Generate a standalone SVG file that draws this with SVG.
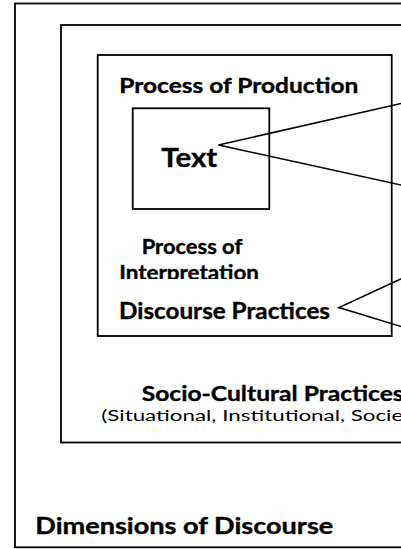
<svg xmlns="http://www.w3.org/2000/svg" width="401" height="549" viewBox="0 0 401 549">
  <style>
    .frame { fill: none; stroke: #000; stroke-width: 1.8; }
    .link { fill: none; stroke: #000; stroke-width: 1.6; stroke-linejoin: miter; }
    .b { font-family: Lato, "Liberation Sans", sans-serif; font-weight: bold; fill: #000; stroke: #000; stroke-width: 0.35; }
    .r { font-family: Lato, "Liberation Sans", sans-serif; font-weight: normal; fill: #000; }
  </style>
  <defs>
    <clipPath id="interpClip">
      <rect x="100" y="240" width="200" height="39"/>
    </clipPath>
  </defs>
  <rect width="401" height="549" fill="#fff"/>

  <!-- Outer frame: dimensions of discourse -->
  <g id="dimensions">
    <rect class="frame" x="15" y="3.5" width="420" height="543.8"/>
    <text class="b" x="35.3" y="534.3" font-size="22" textLength="298" lengthAdjust="spacingAndGlyphs">Dimensions of Discourse</text>
  </g>

  <!-- Socio-cultural practices -->
  <g id="socio-cultural">
    <rect class="frame" x="61" y="25" width="380" height="417.5"/>
    <text class="b" x="141.7" y="401.3" font-size="21.5" textLength="262" lengthAdjust="spacingAndGlyphs">Socio-Cultural Practices</text>
    <text class="r" x="101.3" y="420.8" font-size="15" textLength="302" lengthAdjust="spacingAndGlyphs">(Situational, Institutional, Socie</text>
  </g>

  <!-- Discourse practices -->
  <g id="discourse-practices">
    <rect class="frame" x="97.7" y="55" width="294" height="281"/>
    <text class="b" x="119.3" y="92.7" font-size="21" textLength="239" lengthAdjust="spacingAndGlyphs">Process of Production</text>
    <text class="b" x="141.7" y="254" font-size="20" textLength="100.6" lengthAdjust="spacingAndGlyphs">Process of</text>
    <text class="b" x="119.3" y="280" font-size="20.5" textLength="139.7" lengthAdjust="spacingAndGlyphs" clip-path="url(#interpClip)">Interpretation</text>
    <text class="b" x="119" y="319.3" font-size="22" textLength="211" lengthAdjust="spacingAndGlyphs">Discourse Practices</text>
  </g>

  <!-- Text -->
  <g id="text">
    <rect class="frame" x="132.7" y="108.3" width="136.6" height="100.7"/>
    <text class="b" x="161.3" y="166.5" font-size="27" textLength="56" lengthAdjust="spacingAndGlyphs">Text</text>
  </g>

  <!-- Callout connectors -->
  <g id="connectors">
    <polyline class="link" points="406,102.4 218.5,145 406,186.1"/>
    <polyline class="link" points="406,276.5 339,307.5 406,328"/>
  </g>
</svg>
